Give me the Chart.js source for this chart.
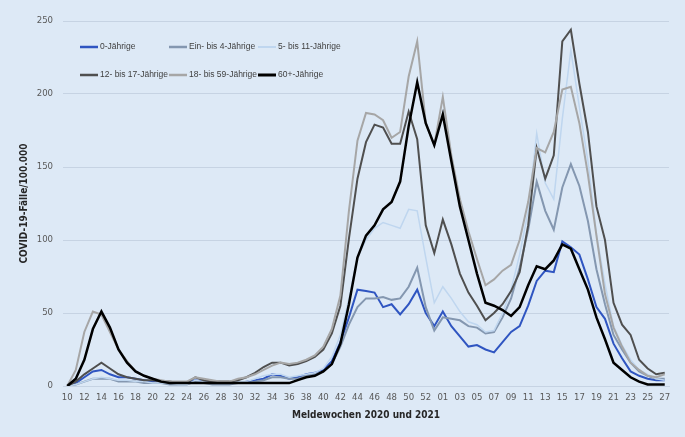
<!DOCTYPE html>
<html>
<head>
<meta charset="utf-8">
<script src="https://cdn.jsdelivr.net/npm/chart.js@4.4.0/dist/chart.umd.min.js"></script>
<style>
    html, body { margin: 0; padding: 0; background: #dde9f6; }
    #wrap { width: 685px; height: 437px; }
</style>
</head>
<body>
<div id="wrap"><canvas id="covid-chart" width="685" height="437"></canvas></div>
<script>
// Meldewochen 10-53 (2020) and 01-27 (2021)
const WEEKS = [
    "10","11","12","13","14","15","16","17","18","19","20",
    "21","22","23","24","25","26","27","28","29","30",
    "31","32","33","34","35","36","37","38","39","40",
    "41","42","43","44","45","46","47","48","49","50","51","52","53",
    "01","02","03","04","05","06","07","08","09","10",
    "11","12","13","14","15","16","17","18","19","20",
    "21","22","23","24","25","26","27"
];

const Y_TICKS = [0, 50, 100, 150, 200, 250];

const AGE_0 = [
    0, 2, 6, 10, 11, 8, 6, 6, 5, 4, 3,
    3, 2, 2, 2, 4, 3, 2, 2, 2, 2,
    3, 4, 5, 8, 7, 5, 6, 8, 9, 11,
    17, 30, 47, 66, 65, 64, 54, 56, 49, 56, 66, 50, 41,
    51, 41, 34, 27, 28, 25, 23, 30, 37, 41,
    55, 72, 79, 78, 99, 95, 90, 73, 54, 46,
    29, 19, 10, 7, 5, 4, 4
];

const AGE_1_4 = [
    0, 1, 3, 5, 5, 5, 3, 3, 3, 2, 2,
    2, 1, 1, 1, 3, 2, 1, 1, 1, 2,
    2, 3, 4, 6, 6, 5, 5, 7, 8, 10,
    15, 27, 42, 54, 60, 60, 61, 59, 60, 68, 81, 54, 38,
    47, 46, 45, 41, 40, 36, 37, 47, 60, 81,
    107, 140, 120, 107, 136, 152, 137, 113, 80, 56,
    35, 25, 16, 10, 7, 5, 5
];

const AGE_5_11 = [
    0, 1, 3, 5, 6, 5, 4, 4, 3, 3, 2,
    2, 2, 1, 1, 4, 3, 2, 2, 2, 3,
    3, 5, 7, 8, 8, 6, 7, 8, 9, 12,
    20, 35, 60, 88, 100, 108, 112, 110, 108, 121, 120, 88, 57,
    68, 60, 51, 44, 42, 37, 38, 50, 66, 90,
    120, 173, 139, 128, 183, 230, 191, 154, 104, 70,
    41, 28, 18, 11, 8, 5, 4
];

const AGE_12_17 = [
    0, 3, 8, 12, 16, 12, 8, 6, 5, 4, 4,
    3, 3, 2, 2, 6, 4, 3, 3, 3, 4,
    6, 9, 13, 16, 16, 14, 15, 17, 20, 25,
    36, 55, 101, 142, 167, 179, 177, 166, 166, 188, 169, 110, 91,
    114, 97, 77, 64, 55, 45, 50, 56, 65, 78,
    110, 163, 142, 158, 236, 244, 207, 174, 123, 100,
    57, 42, 35, 18, 12, 8, 9
];

const AGE_18_59 = [
    0, 11, 37, 51, 49, 37, 25, 17, 10, 7, 5,
    4, 3, 3, 3, 6, 5, 4, 3, 3, 5,
    6, 8, 11, 14, 16, 15, 16, 18, 21, 27,
    39, 62, 120, 168, 187, 186, 182, 170, 174, 212, 236, 180, 165,
    198, 158, 128, 106, 87, 69, 73, 79, 83, 100,
    126, 163, 160, 174, 203, 205, 180, 145, 103, 63,
    40, 27, 16, 11, 7, 6, 8
];

const AGE_60 = [
    0, 5, 18, 39, 51, 40, 25, 16, 10, 7, 5,
    3, 2, 2, 2, 2, 2, 2, 2, 2, 2,
    2, 2, 2, 2, 2, 2, 4, 6, 7, 10,
    15, 29, 56, 88, 103, 110, 121, 126, 140, 178, 208, 180, 165,
    186, 154, 123, 100, 77, 57, 55, 52, 48, 54,
    69, 82, 80, 86, 97, 94, 80, 66, 47, 32,
    16, 11, 6, 3, 1, 1, 1
];

const BACKGROUND = "#dde9f6";
const GRID_COLOR = "#c6d3e3";
const TEXT_COLOR = "#595959";
const FONT = "'Liberation Sans Narrow', 'DejaVu Sans Condensed', 'Liberation Sans', Arial, sans-serif";

function makeSeries(label, data, color, width, order)
{
    return {
        label: label,
        data: data,
        borderColor: color,
        backgroundColor: color,
        borderWidth: width,
        pointRadius: 0,
        pointHoverRadius: 0,
        tension: 0,
        fill: false,
        order: order
    };
}

const backgroundPlugin = {
    id: "background",
    beforeDraw(chart)
    {
        const ctx = chart.ctx;
        ctx.save();
        ctx.fillStyle = BACKGROUND;
        ctx.fillRect(0, 0, chart.width, chart.height);
        ctx.restore();
    }
};

// Excel-like legend: two rows of three inside the plot
const gridLegendPlugin = {
    id: "gridLegend",
    afterDraw(chart)
    {
        const ctx  = chart.ctx;
        const area = chart.chartArea;
        ctx.save();
        ctx.font = "8.5px 'Liberation Sans', Arial, sans-serif";
        ctx.textBaseline = "middle";
        ctx.fillStyle = "#404040";
        chart.data.datasets.forEach((ds, i) => {
            const col = i % 3;
            const row = Math.floor(i / 3);
            const x = area.left + 17 + col * 89;
            const y = area.top + 26 + row * 28;
            ctx.strokeStyle = ds.borderColor;
            ctx.lineWidth = ds.borderWidth + 0.5;
            ctx.beginPath();
            ctx.moveTo(x, y);
            ctx.lineTo(x + 18, y);
            ctx.stroke();
            ctx.fillText(ds.label, x + 20, y);
        });
        ctx.restore();
    }
};

const datasets = [
    makeSeries("0-Jährige",          AGE_0,     "#2f55c1", 2,   5),
    makeSeries("Ein- bis 4-Jährige", AGE_1_4,   "#8497b0", 2,   4),
    makeSeries("5- bis 11-Jährige",  AGE_5_11,  "#bfd6ef", 1.5, 3),
    makeSeries("12- bis 17-Jährige", AGE_12_17, "#4f4f4f", 2,   2),
    makeSeries("18- bis 59-Jährige", AGE_18_59, "#a6a6a6", 2,   1),
    makeSeries("60+-Jährige",        AGE_60,    "#000000", 2.5, 0)
];

new Chart(document.getElementById("covid-chart"), {
    type: "line",
    data: { labels: WEEKS, datasets },
    plugins: [backgroundPlugin, gridLegendPlugin],
    options: {
        responsive: false,
        animation: false,
        devicePixelRatio: 1,
        layout: { padding: { left: 0, right: 16, top: 21, bottom: 0 } },
        plugins: {
            legend: { display: false },
            tooltip: { enabled: false }
        },
        scales: {
            x: {
                offset: true,
                afterFit: scale => { scale.height = 51; },
                grid: { display: false, drawTicks: false },
                border: { display: true, color: GRID_COLOR },
                ticks: {
                    autoSkip: false,
                    maxRotation: 0,
                    padding: 6,
                    color: TEXT_COLOR,
                    font: { family: FONT, size: 9.5 },
                    callback: (value, index) => index % 2 === 0 ? WEEKS[index] : null
                },
                title: {
                    display: true,
                    text: "Meldewochen 2020 und 2021",
                    color: "#262626",
                    font: { family: FONT, size: 10, weight: "bold" },
                    padding: { top: 0, bottom: 16 }
                }
            },
            y: {
                min: Y_TICKS[0],
                max: Y_TICKS[Y_TICKS.length - 1],
                afterFit: scale => { scale.width = 63; },
                grid: { color: GRID_COLOR, drawTicks: false },
                border: { display: false },
                ticks: {
                    stepSize: Y_TICKS[1] - Y_TICKS[0],
                    padding: 10,
                    color: TEXT_COLOR,
                    font: { family: FONT, size: 9.5 }
                },
                title: {
                    display: true,
                    text: "COVID-19-Fälle/100.000",
                    color: "#262626",
                    font: { family: FONT, size: 10, weight: "bold" },
                    padding: { top: 18, bottom: 0 }
                }
            }
        }
    }
});
</script>
</body>
</html>
